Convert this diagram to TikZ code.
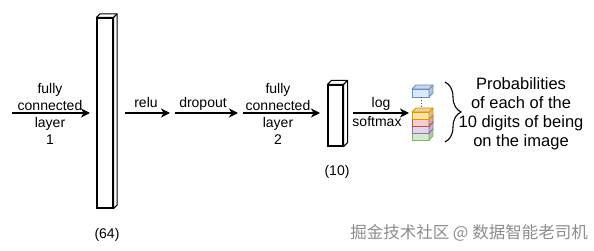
\documentclass[tikz,border=0pt]{standalone}
\usepackage{fontspec}
\setmainfont{Liberation Sans}
\newfontfamily\cjk{Noto Sans CJK SC}
\usetikzlibrary{arrows.meta,decorations.pathreplacing,calc}
\definecolor{blueF}{HTML}{DAE8FC}\definecolor{blueS}{HTML}{6C8EBF}
\definecolor{oraF}{HTML}{FFE2A8}\definecolor{oraS}{HTML}{D79B00}
\definecolor{pinkF}{HTML}{F8CECC}\definecolor{pinkS}{HTML}{B85450}
\definecolor{purF}{HTML}{E1D5E7}\definecolor{purS}{HTML}{9673A6}
\definecolor{grnF}{HTML}{D5E8D4}\definecolor{grnS}{HTML}{82B366}
\tikzset{
  layerbox/.style={draw, line width=1.1pt, fill=white, inner sep=0pt},
  arr/.style={line width=1.4pt, -{Stealth[length=9pt,width=9pt,inset=2.5pt]}},
  lbl/.style={font=\fontsize{14}{17}\selectfont, align=center, inner sep=0pt},
  biglbl/.style={font=\fontsize{16.5}{19}\selectfont, align=center, inner sep=0pt},
}
\newcommand{\boxfaces}[2]{% node name, depth
  \draw[line width=1.1pt, fill=white, line join=round]
    (#1.north west) -- ++(#2,-#2) -- ($(#1.north east)+(#2,-#2)$) -- ($(#1.south east)+(#2,-#2)$) -- (#1.south east) -- (#1.north east) -- cycle;
  \draw[line width=1.1pt] (#1.north east) -- ++(#2,-#2);
}
\newcommand{\cube}[5]{% x-left, y-bottom, height, fill, stroke
  \draw[line width=0.8pt, draw=#5, fill=#4, line join=round]
    (#1,#2) rectangle (#1+17,#2-#3);
  \draw[line width=0.8pt, draw=#5, fill=#4!85!black, line join=round]
    (#1+17,#2) -- (#1+21,#2-4) -- (#1+21,#2-#3-4) -- (#1+17,#2-#3) -- cycle;
  \draw[line width=0.8pt, draw=#5, fill=#4!92!black, line join=round]
    (#1,#2-#3) -- (#1+4,#2-#3-4) -- (#1+21,#2-#3-4) -- (#1+17,#2-#3) -- cycle;
}
\begin{document}
\begin{tikzpicture}[x=1pt,y=-1pt]
\useasboundingbox (0,0) rectangle (594,251);
% layer boxes
\node[layerbox, minimum width=16pt, minimum height=190pt] (b1) at (105,113) {};
\boxfaces{b1}{3.5}
\node[layerbox, minimum width=15pt, minimum height=61pt] (b2) at (335.5,115.5) {};
\boxfaces{b2}{4}
% output stack
\cube{412}{140}{7}{grnF}{grnS}
\cube{412}{133}{7}{purF}{purS}
\cube{412}{126}{7}{pinkF}{pinkS}
\cube{412}{119}{7}{oraF}{oraS}
\cube{412}{97}{8}{blueF}{blueS}
\coordinate (blueb) at (421,97);
\coordinate (orat) at (421,108);
\draw[dotted, line width=0.9pt, black!70] (blueb) -- (orat);
% arrow end points
\coordinate (s1) at (12,113);
\coordinate (e1) at (90,113);
\coordinate (s2) at (125,113);
\coordinate (e2) at (170,113);
\coordinate (s3) at (175,113);
\coordinate (e3) at (238,113);
\coordinate (s4) at (243,113);
\coordinate (e4) at (320,113);
\coordinate (s5) at (353,113);
\coordinate (e5) at (409,113);
\draw[arr] (s1) -- (e1);
\draw[arr] (s2) -- (e2);
\draw[arr] (s3) -- (e3);
\draw[arr] (s4) -- (e4);
\draw[arr] (s5) -- (e5);
% labels
\node[lbl] (l1) at (50,114) {fully\\connected\\layer\\1};
\node[lbl, anchor=base] (l2) at (146,108) {relu};
\node[lbl, anchor=base] (l3) at (203,108) {dropout};
\node[lbl] (l4) at (278,114) {fully\\connected\\layer\\2};
\node[lbl, anchor=base] (l5) at (381,108) {log};
\node[lbl, anchor=base] (l6) at (377,127) {softmax};
\node[lbl] (n64) at (107,235) {(64)};
\node[lbl] (n10) at (337,172) {(10)};
% brace
\draw[line width=1.1pt, decorate, decoration={brace, amplitude=16pt, aspect=0.5}] (445,82) -- (445,142);
\node[biglbl] (prob) at (521,114) {Probabilities\\of each of the\\10 digits of being\\on the image};
% watermark
\node[font=\cjk\fontsize{16.5}{18}\selectfont, text=black!45, inner sep=0pt] (wm) at (469,233) {掘金技术社区 @ 数据智能老司机};
\end{tikzpicture}
\end{document}
